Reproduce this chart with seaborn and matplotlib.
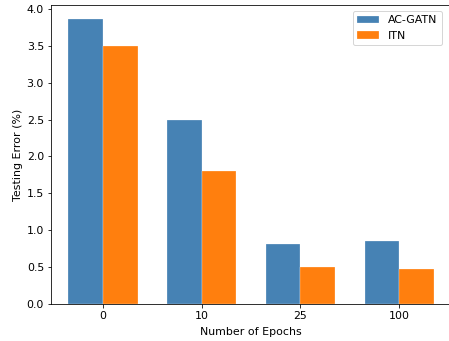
import pandas as pd
import matplotlib
matplotlib.use("Agg")
import matplotlib.pyplot as plt
import seaborn as sns

# data
epochs = ["0", "10", "25", "100"]
ac_gatn = [3.86, 2.50, 0.82, 0.86]
itn = [3.50, 1.80, 0.50, 0.47]
methods = ["AC-GATN", "ITN"]
colors = ["#4682b4", "#ff7f0e"]

df = pd.DataFrame({
    "epoch": epochs * 2,
    "error": ac_gatn + itn,
    "method": [methods[0]] * len(epochs) + [methods[1]] * len(epochs),
})

plt.rcParams.update({
    "font.family": "DejaVu Sans",
    "font.size": 11,
})

fig = plt.figure(figsize=(449 / 72, 341 / 72), dpi=72)
# the original is cropped on the right, so the axes run past the figure edge
ax = fig.add_axes([51 / 449, 37 / 341, 409 / 449, 298.7 / 341])

sns.barplot(data=df, x="epoch", y="error", hue="method", order=epochs,
            hue_order=methods, palette=colors, saturation=1, width=0.7,
            edgecolor="white", linewidth=0.25, errorbar=None, ax=ax)

ax.set_xlim(-0.527, 3.617)
ax.set_ylim(0, 4.05)
ax.set_yticks([0, 0.5, 1.0, 1.5, 2.0, 2.5, 3.0, 3.5, 4.0])
ax.set_yticklabels([f"{v:.1f}" for v in ax.get_yticks()])
ax.spines["right"].set_visible(False)
ax.set_xlabel("Number of Epochs")
ax.set_ylabel("Testing Error (%)")
ax.xaxis.set_label_coords(0.5 * 399 / 409, -0.078)
ax.legend(loc="upper right", title=None, bbox_to_anchor=(0.969, 1.0))

fig.savefig("out.png", dpi=72)
